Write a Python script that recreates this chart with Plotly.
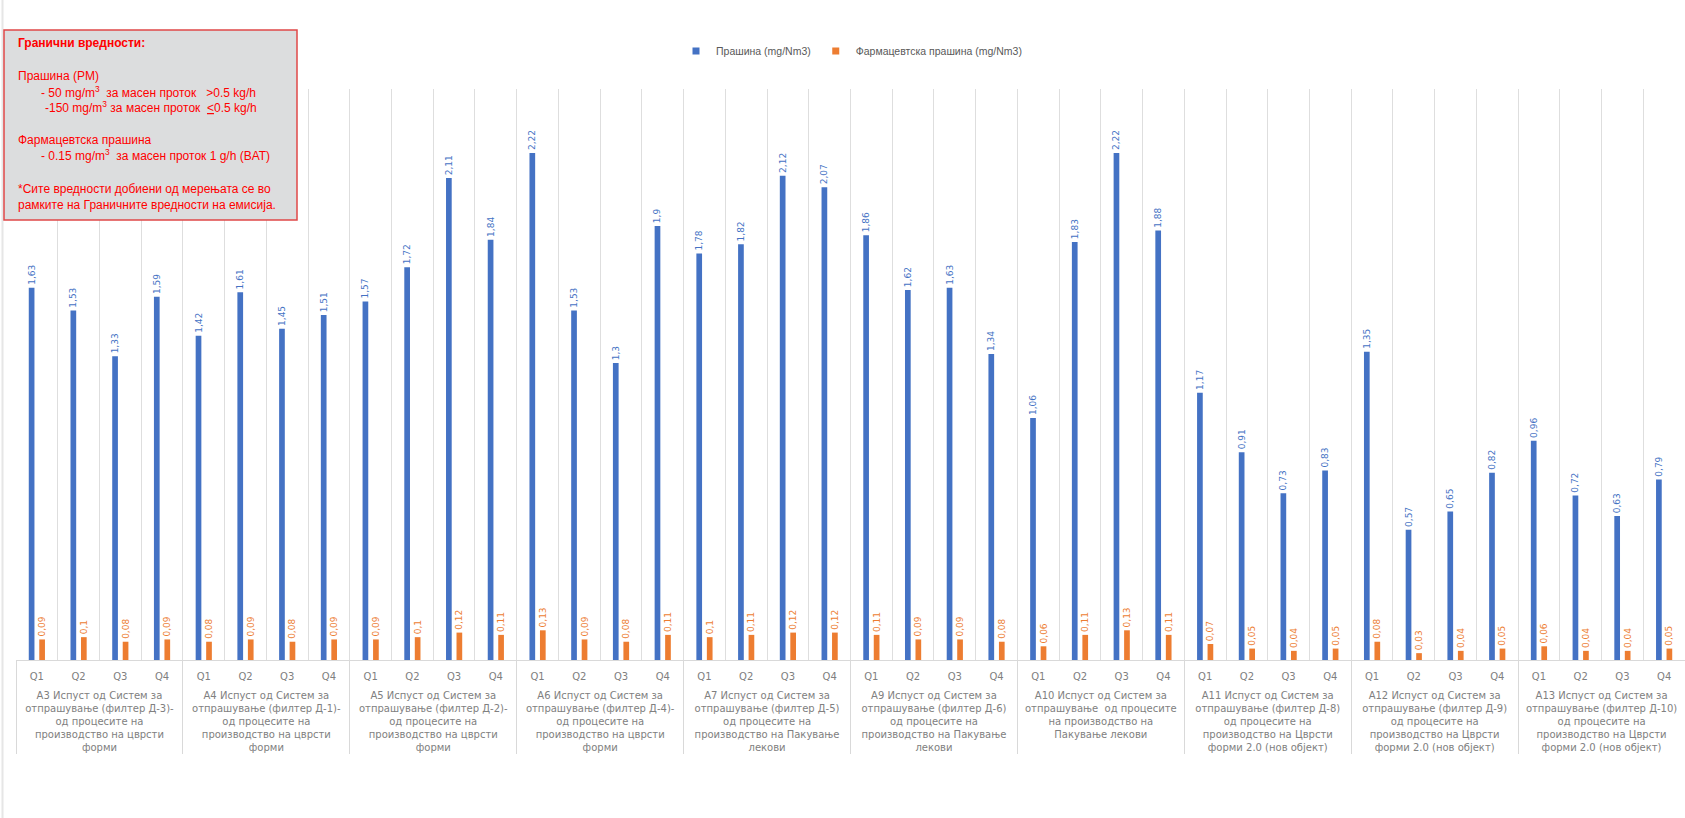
import plotly.graph_objects as go

# ---------------- data ----------------
groups = [
    "А3 Испуст од Систем за<br>отпрашување (филтер Д-3)-<br>од процесите на<br>производство на цврсти<br>форми",
    "А4 Испуст од Систем за<br>отпрашување (филтер Д-1)-<br>од процесите на<br>производство на цврсти<br>форми",
    "А5 Испуст од Систем за<br>отпрашување (филтер Д-2)-<br>од процесите на<br>производство на цврсти<br>форми",
    "А6 Испуст од Систем за<br>отпрашување (филтер Д-4)-<br>од процесите на<br>производство на цврсти<br>форми",
    "А7 Испуст од Систем за<br>отпрашување (филтер Д-5)<br>од процесите на<br>производство на Пакување<br>лекови",
    "А9 Испуст од Систем за<br>отпрашување (филтер Д-6)<br>од процесите на<br>производство на Пакување<br>лекови",
    "А10 Испуст од Систем за<br>отпрашување  од процесите<br>на производство на<br>Пакување лекови",
    "А11 Испуст од Систем за<br>отпрашување (филтер Д-8)<br>од процесите на<br>производство на Цврсти<br>форми 2.0 (нов објект)",
    "А12 Испуст од Систем за<br>отпрашување (филтер Д-9)<br>од процесите на<br>производство на Цврсти<br>форми 2.0 (нов објект)",
    "А13 Испуст од Систем за<br>отпрашување (филтер Д-10)<br>од процесите на<br>производство на Цврсти<br>форми 2.0 (нов објект)",
]
quarters = ["Q1", "Q2", "Q3", "Q4"]

dust = [
    1.63, 1.53, 1.33, 1.59,
    1.42, 1.61, 1.45, 1.51,
    1.57, 1.72, 2.11, 1.84,
    2.22, 1.53, 1.3, 1.9,
    1.78, 1.82, 2.12, 2.07,
    1.86, 1.62, 1.63, 1.34,
    1.06, 1.83, 2.22, 1.88,
    1.17, 0.91, 0.73, 0.83,
    1.35, 0.57, 0.65, 0.82,
    0.96, 0.72, 0.63, 0.79,
]
pharma_dust = [
    0.09, 0.1, 0.08, 0.09,
    0.08, 0.09, 0.08, 0.09,
    0.09, 0.1, 0.12, 0.11,
    0.13, 0.09, 0.08, 0.11,
    0.1, 0.11, 0.12, 0.12,
    0.11, 0.09, 0.09, 0.08,
    0.06, 0.11, 0.13, 0.11,
    0.07, 0.05, 0.04, 0.05,
    0.08, 0.03, 0.04, 0.05,
    0.06, 0.04, 0.04, 0.05,
]
series_names = ["Прашина (mg/Nm3)", "Фармацевтска прашина (mg/Nm3)"]

box_lines = [
    "<b>Гранични вредности:</b>",
    "Прашина (PM)",
    "- 50 mg/m<sup>3</sup>\u00a0 за масен проток \u00a0 &gt;0.5 kg/h",
    "-150 mg/m<sup>3</sup> за масен проток \u00a0<u>&lt;</u>0.5 kg/h",
    "Фармацевтска прашина",
    "- 0.15 mg/m<sup>3</sup>\u00a0 за масен проток 1 g/h (BAT)",
    "*Сите вредности добиени од мерењата се во",
    "рамките на Граничните вредности на емисија.",
]

# ---------------- layout geometry ----------------
W, H = 1685, 818
ML, MR, MT, MB = 16, 0, 89, 158
PW = W - ML - MR
PH = H - MT - MB


def px_x(px):
    return (px - ML) / PW


def px_y(py):
    return (H - MB - py) / PH


BLUE = "#4472C4"
ORANGE = "#ED7D31"

# an empty first line pushes the group names below the quarter labels
outer = ["<br>" + g for g in groups for _ in quarters]
inner = [q for _ in groups for q in quarters]


def fmt(v):
    return "\u00a0" + ("%g" % v).replace(".", ",")


fig = go.Figure()
for vals, color, name in [(dust, BLUE, series_names[0]), (pharma_dust, ORANGE, series_names[1])]:
    fig.add_trace(go.Bar(
        x=[outer, inner], y=vals, name=name,
        marker=dict(color=color, line=dict(width=0)),
        text=[fmt(v) for v in vals], textposition="outside", textangle=-90,
        textfont=dict(family="DejaVu Sans", size=9, color=color),
        constraintext="none", cliponaxis=False, showlegend=False,
        hoverinfo="skip",
    ))

# legend entries (small square symbols)
for color, name in [(BLUE, series_names[0]), (ORANGE, series_names[1])]:
    fig.add_trace(go.Scatter(
        x=[None], y=[None], mode="markers", name=name,
        marker=dict(symbol="square", size=7, color=color),
        xaxis="x2", yaxis="y2", showlegend=True,
    ))

shapes = [
    dict(type="line", xref="paper", yref="paper",
         x0=px_x(2.5), x1=px_x(2.5), y0=px_y(0), y1=px_y(H),
         line=dict(color="#E6E6E6", width=2), layer="below"),
    dict(type="rect", xref="paper", yref="paper",
         x0=px_x(4), x1=px_x(297), y0=px_y(220), y1=px_y(30),
         fillcolor="#DCDDDE", line=dict(color="#E04848", width=1.5), layer="above"),
]

line_specs = [(16, 43.5), (16, 76), (39, 91.5), (42.5, 107), (16, 139.5), (39, 155), (16, 189), (16, 205)]
annotations = []
for (lx, ly), txt in zip(line_specs, box_lines):
    annotations.append(dict(
        text=txt, xref="paper", yref="paper", x=px_x(lx), y=px_y(ly),
        xanchor="left", yanchor="middle", showarrow=False,
        font=dict(family="Liberation Sans", size=12, color="#FF0000"),
    ))

fig.update_layout(
    width=W, height=H,
    margin=dict(l=ML, r=MR, t=MT, b=MB, autoexpand=False),
    paper_bgcolor="white", plot_bgcolor="white",
    barmode="group", bargap=0.497, bargroupgap=0.457,
    xaxis=dict(
        type="multicategory", showgrid=True, gridcolor="#DEDEDE", gridwidth=1,
        tickson="boundaries", ticks="", showline=True, linecolor="#D9D9D9", linewidth=1,
        showdividers=True, dividercolor="#D9D9D9", dividerwidth=1,
        tickfont=dict(family="DejaVu Sans", size=10, color="#808080"),
        tickangle=0, automargin=False, zeroline=False, ticklabelstandoff=7,
    ),
    yaxis=dict(visible=False, range=[0, 2.5], automargin=False),
    xaxis2=dict(visible=False, overlaying="x", range=[0, 1]),
    yaxis2=dict(visible=False, overlaying="y", range=[0, 1]),
    legend=dict(
        orientation="h", x=px_x(676), xanchor="left", y=px_y(51), yanchor="middle",
        font=dict(family="Liberation Sans", size=10.5, color="#595959"),
        bgcolor="rgba(0,0,0,0)", itemwidth=30,
    ),
    shapes=shapes, annotations=annotations,
    showlegend=True,
)

fig.write_html(
    "out.html",
    config={"displayModeBar": False},
    post_script="document.body.style.margin='0';document.body.style.overflow='hidden';",
)
